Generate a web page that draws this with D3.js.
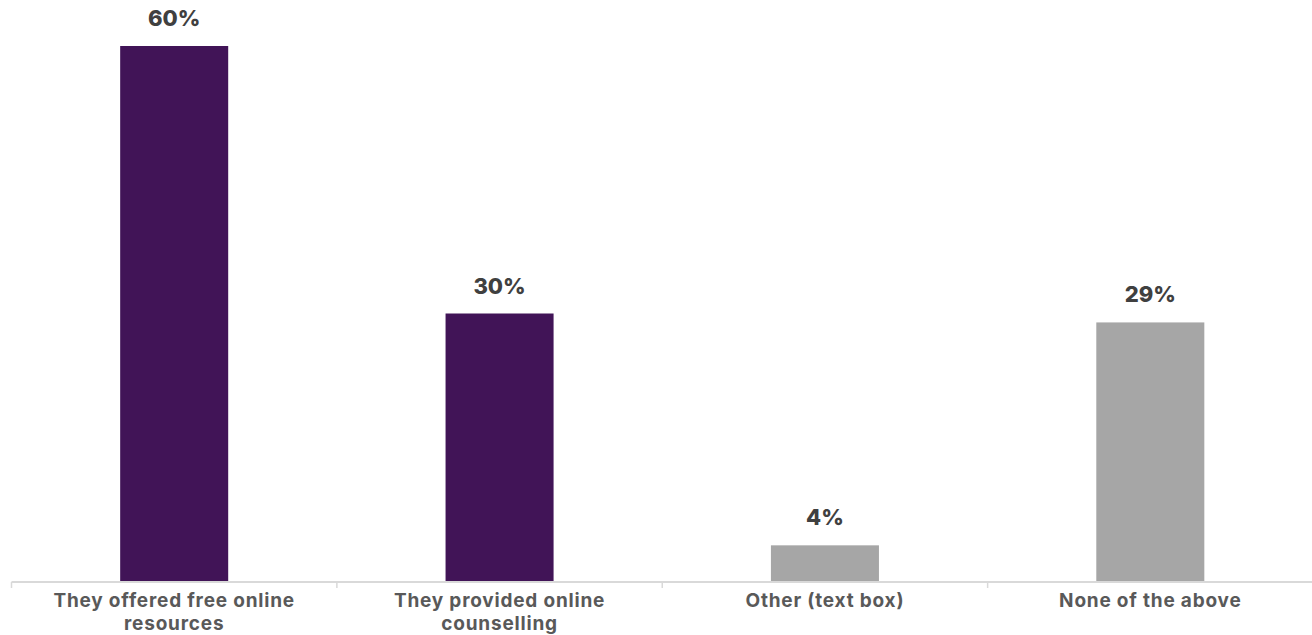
<!DOCTYPE html>
<html><head><meta charset="utf-8">
<script src="https://cdn.jsdelivr.net/npm/d3@7"></script>
<style>body{margin:0;background:#fff}svg{display:block}</style>
</head><body>
<svg id="c" width="1312" height="635"></svg>
<script>
const categories = [["They offered free online","resources"],["They provided online","counselling"],["Other (text box)"],["None of the above"]];
const values = [60, 30, 4, 29];
const colors = ["#411457","#411457","#a6a6a6","#a6a6a6"];

const svg = d3.select("#c");
const baseline = 581;
const x = d3.scaleBand().domain(d3.range(values.length)).range([11.5, 1313]).paddingInner(0.668).paddingOuter(0.334);
const y = d3.scaleLinear().domain([0, 60]).range([baseline, 46]);

svg.selectAll("rect.bar").data(values).join("rect")
  .attr("x", (d,i)=>x(i)).attr("width", x.bandwidth())
  .attr("y", d=>y(d)).attr("height", d=>baseline - y(d))
  .attr("fill", (d,i)=>colors[i]);

// axis line
const step = x.step();
svg.append("line").attr("x1", 11.5).attr("x2", 1312).attr("y1", baseline+1).attr("y2", baseline+1)
  .attr("stroke", "#d9d9d9").attr("stroke-width", 2);
const bounds = d3.range(values.length+1).map(i => 11.5 + i*step);
svg.selectAll("line.tick").data(bounds).join("line")
  .attr("x1", d=>d).attr("x2", d=>d).attr("y1", baseline+1).attr("y2", baseline+7)
  .attr("stroke", "#d9d9d9").attr("stroke-width", 1.5);

// value labels
svg.selectAll("text.val").data(values).join("text")
  .attr("x", (d,i)=>x(i)+x.bandwidth()/2).attr("y", d=>y(d)-20)
  .attr("text-anchor","middle").attr("font-family","Inter, sans-serif").attr("font-weight","800")
  .attr("font-size", 22).attr("fill","#404040").text(d=>d+"%");

// category labels
const cat = svg.selectAll("text.cat").data(categories).join("text")
  .attr("text-anchor","middle").attr("font-family","Inter, sans-serif").attr("font-weight","bold")
  .attr("font-size", 19).attr("letter-spacing", 0.8).attr("fill","#595959");
cat.each(function(lines,i){
  const t = d3.select(this);
  lines.forEach((l,j)=>{
    t.append("tspan").attr("x", x(i)+x.bandwidth()/2).attr("y", 607 + j*23).text(l);
  });
});
</script>
</body></html>
